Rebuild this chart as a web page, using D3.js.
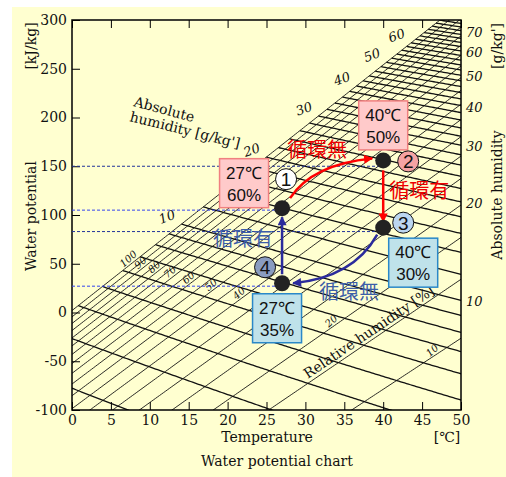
<!DOCTYPE html>
<html>
<head>
<meta charset="utf-8">
<script src="https://cdn.jsdelivr.net/npm/d3@7"></script>
<style>
body { margin: 0; background: #fff; }
text { font-family: "DejaVu Serif", serif; fill: #111; }
.sans { font-family: "Liberation Sans", Arial, sans-serif; }
.jp { font-family: "Noto Sans CJK JP", sans-serif; }
</style>
</head>
<body>
<script>
// chart values
const tempTicks = [0, 5, 10, 15, 20, 25, 30, 35, 40, 45, 50]
const potentialTicks = [-100, -50, 0, 50, 100, 150, 200, 250, 300]
const absHumidityLines = [2, 3, 4, 5, 6, 7, 8, 9, 10, 12, 14, 16, 18, 20, 22, 24, 26, 28, 30, 32, 34, 36, 38, 40,
    42, 44, 46, 48, 50, 52, 54, 56, 58, 60, 62, 64, 66, 68, 70, 72, 74, 76, 78, 80]
const rhLines = [10, 15, 20, 25, 30, 35, 40, 45, 50, 55, 60, 65, 70, 75, 80, 85, 90, 95, 100]
const satLabels = [10, 20, 30, 40, 50, 60]
const rightLabels = [10, 20, 30, 40, 50, 60, 70]
const rhLabels = [100, 90, 80, 70, 60, 50, 40, 30, 20, 10]
const stateNames = ["1", "2", "3", "4"]
const stateTemp = [27, 40, 40, 27]
const stateRH = [60, 50, 30, 35]
const statePotential = [107, 156, 87, 30]
const guidePotential = [105, 150, 83, 27]

const width = 506
const height = 477
const pLeft = 72, pRight = 461, pTop = 20, pBottom = 410

const svg = d3.select("body")
    .append("svg")
    .attr("width", width)
    .attr("height", height)

svg.append("rect")
    .attr("x", 12).attr("y", 7)
    .attr("width", width - 12).attr("height", height - 7)
    .attr("fill", "#ffffd0")

const xScale = d3.scaleLinear().domain([0, 50]).range([pLeft, pRight])
const yScale = d3.scaleLinear().domain([-100, 300]).range([pBottom, pTop])

// chart geometry: vapour pressure (kPa) -> water potential
const psat = t => 0.61094 * Math.exp(17.625 * t / (t + 243.04))
const tsat = p => { const a = Math.log(p / 0.61094); return 243.04 * a / (17.625 - a) }
const pv = x => 101.325 * x / (622 + x)
const pot = (t, p) => 2 + 6.3 * t + 0.4615 * (t + 273.15) * Math.log(p / psat(t))

const defs = svg.append("defs")
defs.append("clipPath").attr("id", "plot")
    .append("rect")
    .attr("x", pLeft).attr("y", pTop)
    .attr("width", pRight - pLeft).attr("height", pBottom - pTop)

const line = d3.line().x(d => xScale(d[0])).y(d => yScale(d[1]))
const grid = svg.append("g").attr("clip-path", "url(#plot)")

function steps(t0) {
    const ts = d3.range(Math.ceil(t0 * 4) / 4, 50.001, 0.25)
    if (ts[0] > t0) ts.unshift(t0)
    return ts
}

grid.selectAll(".rh")
    .data(rhLines)
    .enter()
    .append("path")
    .attr("class", "rh")
    .attr("d", r => line(steps(0).map(t => [t, pot(t, r / 100 * psat(t))])))
    .attr("fill", "none")
    .attr("stroke", "#111")
    .attr("stroke-width", 0.9)

grid.selectAll(".ah")
    .data(absHumidityLines)
    .enter()
    .append("path")
    .attr("class", "ah")
    .attr("d", x => {
        const p = pv(x)
        const t0 = Math.max(0, tsat(p))
        return line(steps(t0).map(t => [t, pot(t, p)]))
    })
    .attr("fill", "none")
    .attr("stroke", "#111")
    .attr("stroke-width", 1.3)

// axes
const yAxis = d3.axisLeft(yScale).tickValues(potentialTicks).tickSize(-8).tickPadding(5).tickFormat(d => String(d))
svg.append("g")
    .attr("transform", "translate(" + pLeft + ",0)")
    .call(yAxis)
    .call(g => g.select(".domain").remove())
    .call(g => g.selectAll("text").style("font-family", "DejaVu Serif").style("font-size", "14px").attr("fill", "#111"))

const xAxis = d3.axisBottom(xScale).tickValues(tempTicks).tickSize(-8).tickPadding(5)
svg.append("g")
    .attr("transform", "translate(0," + pBottom + ")")
    .call(xAxis)
    .call(g => g.select(".domain").remove())
    .call(g => g.selectAll("text").style("font-family", "DejaVu Serif").style("font-size", "14px").attr("fill", "#111"))

svg.append("g")
    .attr("transform", "translate(0," + pTop + ")")
    .call(d3.axisTop(xScale).tickValues(tempTicks).tickSize(-8).tickFormat(""))
    .call(g => g.select(".domain").remove())

svg.append("rect")
    .attr("x", pLeft).attr("y", pTop)
    .attr("width", pRight - pLeft).attr("height", pBottom - pTop)
    .attr("fill", "none")
    .attr("stroke", "#000")
    .attr("stroke-width", 1.5)

// right axis labels (absolute humidity at the right edge)
svg.selectAll(".rlab")
    .data(rightLabels)
    .enter()
    .append("text")
    .attr("x", pRight + 5)
    .attr("y", x => yScale(pot(50, pv(x))) + 6)
    .attr("font-size", 13)
    .attr("font-style", "italic")
    .text(x => x)

// absolute humidity labels along saturation
svg.selectAll(".slab")
    .data(satLabels)
    .enter()
    .append("text")
    .attr("transform", x => {
        const t = tsat(pv(x))
        return "translate(" + (xScale(t) - 13) + "," + (yScale(pot(t, pv(x))) - 3) + ") rotate(-20)"
    })
    .attr("text-anchor", "middle")
    .attr("font-size", 13)
    .attr("font-style", "italic")
    .text(x => x)

// relative humidity labels along the 6.5 g/kg line
const labP = pv(6.5)
svg.selectAll(".rhlab")
    .data(rhLabels)
    .enter()
    .append("text")
    .attr("transform", r => {
        const t = tsat(labP / (r / 100))
        return "translate(" + (xScale(t) - 1) + "," + (yScale(pot(t, labP)) - 2) + ") rotate(-42)"
    })
    .attr("text-anchor", "middle")
    .attr("font-size", 10)
    .attr("font-style", "italic")
    .text(r => r)

{
    const t = 38.5, p = 0.15 * psat(38.5)
    svg.append("text")
        .attr("transform", "translate(" + xScale(t) + "," + (yScale(pot(t, p)) - 4) + ") rotate(-34)")
        .attr("text-anchor", "middle")
        .attr("font-size", 14)
        .text("Relative humidity [%]")
}

svg.append("text")
    .attr("transform", "translate(133,106) rotate(15)")
    .attr("font-size", 14)
    .text("Absolute")
svg.append("text")
    .attr("transform", "translate(129,121) rotate(14)")
    .attr("font-size", 14)
    .text("humidity [g/kg']")

// titles
svg.append("text").attr("x", 267).attr("y", 442).attr("text-anchor", "middle").attr("font-size", 14).text("Temperature")
svg.append("text").attr("x", 447).attr("y", 442).attr("text-anchor", "middle").attr("font-size", 14).text("[℃]")
svg.append("text").attr("x", 277).attr("y", 466).attr("text-anchor", "middle").attr("font-size", 14).text("Water potential chart")
svg.append("text").attr("transform", "translate(36,216) rotate(-90)").attr("text-anchor", "middle").attr("font-size", 14).text("Water potential")
svg.append("text").attr("transform", "translate(36,46) rotate(-90)").attr("text-anchor", "middle").attr("font-size", 14).text("[kJ/kg]")
svg.append("text").attr("transform", "translate(502,195) rotate(-90)").attr("text-anchor", "middle").attr("font-size", 14).text("Absolute humidity")
svg.append("text").attr("transform", "translate(502,46) rotate(-90)").attr("text-anchor", "middle").attr("font-size", 14).text("[g/kg']")

// dashed guides
const sx = i => xScale(stateTemp[i])
const sy = i => yScale(statePotential[i])
svg.selectAll(".guide")
    .data(guidePotential)
    .enter()
    .append("line")
    .attr("x1", pLeft)
    .attr("x2", (d, i) => sx(i))
    .attr("y1", d => yScale(d))
    .attr("y2", d => yScale(d))
    .attr("stroke", (d, i) => ["#3344ee", "#223399", "#223399", "#3344ee"][i])
    .attr("stroke-width", 1)
    .attr("stroke-dasharray", "3,2")

// arrows
function marker(id, color) {
    defs.append("marker")
        .attr("id", id)
        .attr("viewBox", "0 0 10 10")
        .attr("refX", 9).attr("refY", 5)
        .attr("markerWidth", 10).attr("markerHeight", 9)
        .attr("markerUnits", "userSpaceOnUse")
        .attr("orient", "auto")
        .append("path")
        .attr("d", "M0,0 L10,5 L0,10 Z")
        .attr("fill", color)
}
marker("redHead", "#ff0000")
marker("blueHead", "#2b2b9c")

function arrow(d, color, head) {
    svg.append("path")
        .attr("d", d)
        .attr("fill", "none")
        .attr("stroke", color)
        .attr("stroke-width", 2.5)
        .attr("marker-end", "url(#" + head + ")")
}
arrow(`M${sx(0) + 8},${sy(0) - 10} Q${sx(0) + 30},${sy(0) - 44} ${sx(1) - 11},${sy(1) - 2}`, "#ff0000", "redHead")
arrow(`M${sx(1)},${sy(1) + 10} L${sx(2)},${sy(2) - 6}`, "#ff0000", "redHead")
arrow(`M${sx(3)},${sy(3) - 9} L${sx(0)},${sy(0) + 9}`, "#2b2b9c", "blueHead")
arrow(`M${sx(2) - 6},${sy(2) + 7} Q${sx(2) - 30},${sy(2) + 50} ${sx(3) + 11},${sy(3)}`, "#2b2b9c", "blueHead")

// state boxes
const boxDx = [-38, 0, 30, -5]
const boxDy = [-25, -35, 35, 35]
const boxFill = ["#ffcaca", "#ffcaca", "#bfe2ea", "#bfe2ea"]
const boxStroke = ["#f08080", "#f08080", "#2a88c8", "#2a88c8"]
stateNames.forEach((n, i) => {
    const cx = sx(i) + boxDx[i], cy = sy(i) + boxDy[i]
    svg.append("rect")
        .attr("x", cx - 24.5).attr("y", cy - 24.5)
        .attr("width", 49).attr("height", 49)
        .attr("fill", boxFill[i]).attr("stroke", boxStroke[i]).attr("stroke-width", 1.5)
    svg.append("text").attr("class", "sans")
        .attr("x", cx).attr("y", cy - 4.5).attr("text-anchor", "middle").attr("font-size", 17)
        .text(stateTemp[i] + "℃")
    svg.append("text").attr("class", "sans")
        .attr("x", cx).attr("y", cy + 17.5).attr("text-anchor", "middle").attr("font-size", 17)
        .text(stateRH[i] + "%")
})

// state dots
svg.selectAll(".dot")
    .data(statePotential)
    .enter()
    .append("circle")
    .attr("cx", (d, i) => sx(i))
    .attr("cy", d => yScale(d))
    .attr("r", 8)
    .attr("fill", "#222")

// numbered badges
const badgeDx = [4, 25, 20, -17]
const badgeDy = [-29, 1, -5, -16]
const badgeFill = ["#ffffff", "#f5a3a3", "#bcd6f0", "#8a9cc0"]
stateNames.forEach((n, i) => {
    const cx = sx(i) + badgeDx[i], cy = sy(i) + badgeDy[i]
    svg.append("circle").attr("cx", cx).attr("cy", cy).attr("r", 10.5)
        .attr("fill", badgeFill[i]).attr("stroke", "#111").attr("stroke-width", 1)
    svg.append("text").attr("class", "sans")
        .attr("x", cx).attr("y", cy + 7).attr("text-anchor", "middle").attr("font-size", 19)
        .text(n)
})

// cycle labels
const notes = [
    { text: "循環無", i: 0, dx: 35, dy: -58, color: "#ee0000" },
    { text: "循環有", i: 1, dx: 36, dy: 31, color: "#ee0000" },
    { text: "循環有", i: 0, dx: -39, dy: 31, color: "#3d5ea8" },
    { text: "循環無", i: 3, dx: 67, dy: 9, color: "#3d5ea8" }
]
svg.selectAll(".note")
    .data(notes)
    .enter()
    .append("text")
    .attr("class", "jp")
    .attr("x", d => sx(d.i) + d.dx)
    .attr("y", d => sy(d.i) + d.dy + 7)
    .attr("text-anchor", "middle")
    .attr("font-size", 20)
    .style("fill", d => d.color)
    .text(d => d.text)
</script>
</body>
</html>
